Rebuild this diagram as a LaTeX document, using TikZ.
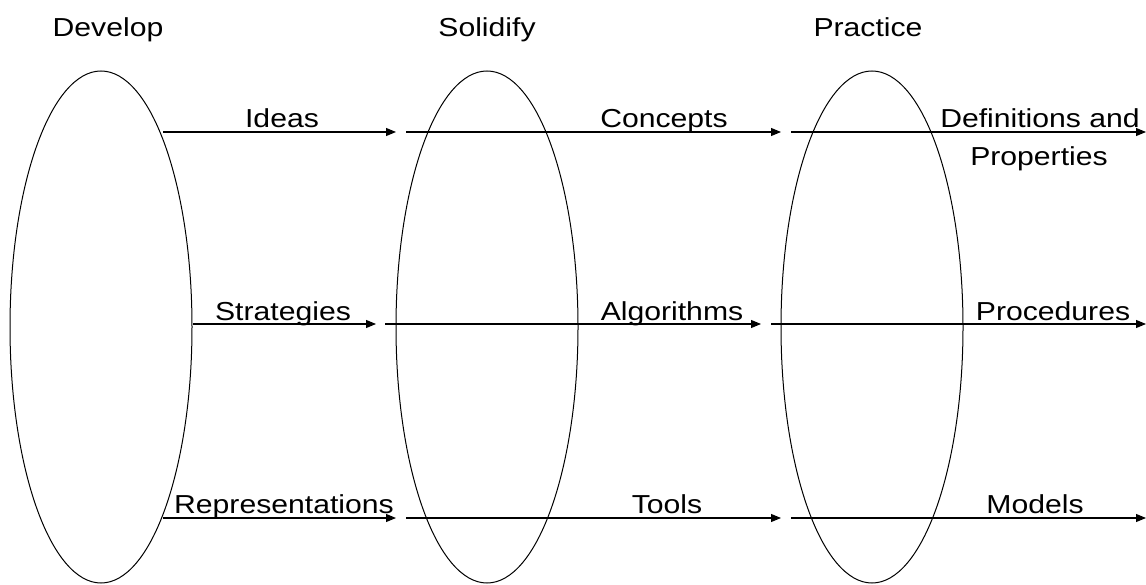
\documentclass[tikz,border=0pt]{standalone}
\usepackage{fontspec}
\setmainfont{Liberation Sans}
\newfontfamily\widesans[FakeStretch=1.16]{Liberation Sans}
\usetikzlibrary{shapes.geometric,arrows.meta}
\tikzset{
  stage/.style={draw,ellipse,minimum width=182pt,minimum height=512pt,inner sep=0pt,line width=1pt},
  flow/.style={-{Triangle[length=10pt,width=8pt]},line width=1.1pt},
  word/.style={font=\widesans\fontsize{26}{30}\selectfont,inner sep=0pt,anchor=base}
}
\begin{document}
\begin{tikzpicture}[x=1pt,y=-1pt]
\useasboundingbox (0,0) rectangle (1146,585);
% the three stages
\node [stage] (dev) at (101,327) {};
\node [stage] (sol) at (487,327) {};
\node [stage] (pra) at (872,327) {};
\node [word] (devT) at (108,37) {Develop};
\node [word] (solT) at (487,37) {Solidify};
\node [word] (praT) at (868,37) {Practice};
% arrow end points
\coordinate (A1) at (163,132);
\coordinate (B1) at (396,132);
\coordinate (C1) at (406,132);
\coordinate (D1) at (781,132);
\coordinate (E1) at (791,132);
\coordinate (F1) at (1146,132);
\coordinate (A2) at (193,324);
\coordinate (B2) at (376,324);
\coordinate (C2) at (385,324);
\coordinate (D2) at (761,324);
\coordinate (E2) at (771,324);
\coordinate (F2) at (1146,324);
\coordinate (A3) at (163,518);
\coordinate (B3) at (396,518);
\coordinate (C3) at (406,518);
\coordinate (D3) at (781,518);
\coordinate (E3) at (791,518);
\coordinate (F3) at (1146,518);
\draw [flow] (A1) -- (B1);
\draw [flow] (C1) -- (D1);
\draw [flow] (E1) -- (F1);
\draw [flow] (A2) -- (B2);
\draw [flow] (C2) -- (D2);
\draw [flow] (E2) -- (F2);
\draw [flow] (A3) -- (B3);
\draw [flow] (C3) -- (D3);
\draw [flow] (E3) -- (F3);
% labels
\node [word] (ideas) at (282,128) {Ideas};
\node [word] (conc) at (664,128) {Concepts};
\node [word] (defs) at (1040,128) {Definitions and};
\node [word] (prop) at (1039,166) {Properties};
\node [word] (strat) at (283,320) {Strategies};
\node [word] (algo) at (672,320) {Algorithms};
\node [word] (proc) at (1053,320) {Procedures};
\node [word] (repr) at (284,513) {Representations};
\node [word] (tools) at (667,513) {Tools};
\node [word] (mod) at (1035,513) {Models};
\end{tikzpicture}
\end{document}
